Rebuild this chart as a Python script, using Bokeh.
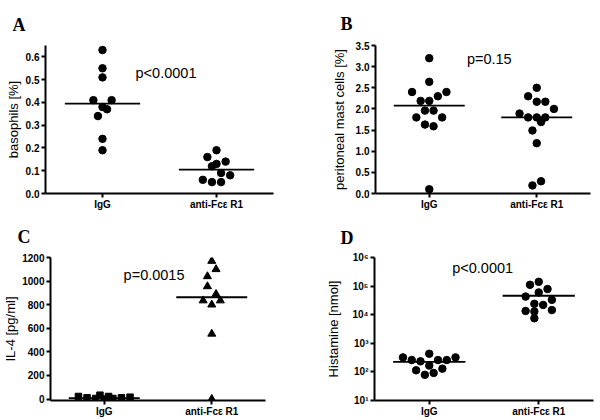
from bokeh.plotting import figure
from bokeh.layouts import column, row
from bokeh.models import FixedTicker, Range1d
from bokeh.core.properties import value
from bokeh.embed import file_html
from bokeh.resources import INLINE

SANS = "Liberation Sans"
SERIF = "Liberation Serif"

# ---------------- data ----------------
categories = ["IgG", "anti-Fcε R1"]
cat_pos = [1, 2]

# Panel A: basophils [%]
igg_A = [0.63, 0.55, 0.51, 0.41, 0.41, 0.38, 0.37, 0.34, 0.24, 0.19]
igg_A_jit = [0, 0, 0, -0.08, 0.08, 0, 0.04, -0.04, 0, 0]
anti_A = [0.19, 0.16, 0.14, 0.13, 0.12, 0.09, 0.08, 0.06, 0.05, 0.05]
anti_A_jit = [0, -0.08, 0.08, 0, -0.04, 0.04, 0.12, -0.12, -0.04, 0.04]
med_A = [0.395, 0.105]
yticks_A = [0.0, 0.1, 0.2, 0.3, 0.4, 0.5, 0.6]
ylabels_A = ["0.0", "0.1", "0.2", "0.3", "0.4", "0.5", "0.6"]

# Panel B: peritoneal mast cells [%]
igg_B = [3.2, 2.64, 2.4, 2.4, 2.3, 2.19, 2.19, 1.96, 1.96, 1.8, 1.8, 1.63, 1.59, 0.1]
igg_B_jit = [0, 0, -0.16, 0.16, 0.08, -0.08, 0, -0.04, 0.04, -0.12, 0.12, -0.04, 0.04, 0]
anti_B = [2.5, 2.3, 2.17, 2.17, 2.0, 1.89, 1.8, 1.8, 1.8, 1.69, 1.49, 1.19, 0.29, 0.19]
anti_B_jit = [0, -0.08, 0, 0.08, 0.16, -0.16, -0.08, 0, 0.08, 0.04, -0.04, 0, 0.04, -0.04]
med_B = [2.08, 1.80]
yticks_B = [0.0, 0.5, 1.0, 1.5, 2.0, 2.5, 3.0, 3.5]
ylabels_B = ["0.0", "0.5", "1.0", "1.5", "2.0", "2.5", "3.0", "3.5"]

# Panel C: IL-4 [pg/ml]
igg_C = [22, 11, 5, 33, 0, 22, 5, 11, 16]
igg_C_jit = [-0.24, -0.16, -0.08, -0.04, 0, 0.04, 0.08, 0.16, 0.24]
anti_C = [1170, 1100, 1040, 955, 890, 835, 835, 800, 553, 0]
anti_C_jit = [0, 0.04, -0.04, -0.04, 0.04, -0.08, 0.08, 0, 0, 0]
med_C = [8, 863]
yticks_C = [0, 200, 400, 600, 800, 1000, 1200]
ylabels_C = ["0", "200", "400", "600", "800", "1000", "1200"]

# Panel D: Histamine [nmol]
igg_D = [322, 322, 260, 260, 260, 234, 431, 166, 114, 130, 92, 79]
igg_D_jit = [-0.24, 0.24, -0.16, 0.08, 0.16, -0.08, 0, 0, -0.12, 0.12, 0.04, -0.04]
anti_D = [141000, 111000, 79000, 60000, 43000, 24000, 22000, 33000, 13500, 13000, 14500, 7500]
anti_D_jit = [0, -0.08, 0.08, 0, -0.12, -0.04, 0.04, 0.12, -0.12, -0.04, 0.12, -0.04]
med_D = [225, 46000]
yticks_D = [10, 100, 1000, 10000, 100000, 1000000]
ylabels_D = ["10¹", "10²", "10³", "10⁴", "10⁵", "10⁶"]

p_texts = ["p<0.0001", "p=0.15", "p=0.0015", "p<0.0001"]
letters = ["A", "B", "C", "D"]


def panel(letter, w, h, borders, yr, ylog, ylabel, yticks, ylabels,
          g1, j1, g2, j2, med, m1, m2, s1, s2, ptext, pxy, title_off, title_stand, ystand):
    bl, br, bt, bb = borders
    p = figure(width=w, height=h, x_range=Range1d(0.5, 2.5), y_range=Range1d(*yr),
               y_axis_type="log" if ylog else "linear",
               output_backend="svg", toolbar_location=None,
               min_border_left=bl, min_border_right=br,
               min_border_top=bt, min_border_bottom=bb)
    p.outline_line_color = None
    p.xgrid.visible = False
    p.ygrid.visible = False
    p.background_fill_color = "white"
    p.border_fill_color = "white"

    p.title.text = letter
    p.title.text_font = SERIF
    p.title.text_font_style = "bold"
    p.title.text_font_size = "18px"
    p.title.text_color = "black"
    p.title.align = "left"
    p.title.offset = title_off
    p.title.standoff = title_stand

    for ax in (p.xaxis[0], p.yaxis[0]):
        ax.axis_line_width = 2
        ax.axis_line_color = "black"
        ax.major_tick_line_width = 2
        ax.major_tick_line_color = "black"
        ax.major_tick_out = 4
        ax.major_tick_in = 0
        ax.minor_tick_out = 0
        ax.minor_tick_in = 0
        ax.major_label_text_font = SANS
        ax.major_label_text_font_style = "bold"
        ax.major_label_text_font_size = "10px"
        ax.major_label_text_color = "black"
        ax.major_label_standoff = 2

    p.xaxis.axis_label = None
    p.xaxis.major_label_standoff = 1
    p.xaxis.ticker = FixedTicker(ticks=cat_pos)
    p.xaxis.major_label_overrides = {c: t for c, t in zip(cat_pos, categories)}
    p.yaxis.ticker = FixedTicker(ticks=yticks)
    p.yaxis.major_label_overrides = {v: t for v, t in zip(yticks, ylabels)}
    p.yaxis.axis_label = ylabel
    p.yaxis.axis_label_text_font = SANS
    p.yaxis.axis_label_text_font_style = "normal"
    p.yaxis.axis_label_text_font_size = "13px"
    p.yaxis.axis_label_text_color = "black"
    p.yaxis.axis_label_standoff = ystand

    x1 = [cat_pos[0] + d for d in j1]
    x2 = [cat_pos[1] + d for d in j2]
    p.scatter(x1, g1, marker=m1, size=s1, color="black")
    p.scatter(x2, g2, marker=m2, size=s2, color="black")
    p.segment(x0=[c - 0.33 for c in cat_pos], x1=[c + 0.33 for c in cat_pos],
              y0=med, y1=med, line_color="black", line_width=1.8)
    p.text(x=[pxy[0]], y=[pxy[1]], text=[ptext], text_font=value(SANS),
           text_font_size="14.5px", text_align="left", text_baseline="middle",
           text_color="black")
    return p


pA = panel(letters[0], 300, 212, (45, 27, 43, 19), (0, 0.65), False, "basophils [%]",
           yticks_A, ylabels_A, igg_A, igg_A_jit, anti_A, anti_A_jit, med_A,
           "circle", "circle", 7.5, 7.5, p_texts[0], (1.29, 0.528), -33, 22, 2)
pB = panel(letters[1], 298, 212, (75, 8, 44, 19), (0, 3.5), False, "peritoneal mast cells [%]",
           yticks_B, ylabels_B, igg_B, igg_B_jit, anti_B, anti_B_jit, med_B,
           "circle", "circle", 7.5, 7.5, p_texts[1], (1.35, 3.18), -35, 23, 6)
pC = panel(letters[2], 300, 207, (45, 35, 45, 19), (-12, 1200), False, "IL-4 [pg/ml]",
           yticks_C, ylabels_C, igg_C, igg_C_jit, anti_C, anti_C_jit, med_C,
           "square", "triangle", 6.5, 8, p_texts[2], (1.18, 1052), -33, 22, 1)
pD = panel(letters[3], 298, 207, (74, 5, 41, 19), (10, 1000000), True, "Histamine [nmol]",
           yticks_D, ylabels_D, igg_D, igg_D_jit, anti_D, anti_D_jit, med_D,
           "circle", "circle", 7.5, 7.5, p_texts[3], (1.21, 430000), -34, 19, 8)

layout = column(row(pA, pB, spacing=0), row(pC, pD, spacing=0), spacing=0)
open("out.html", "w").write(file_html(layout, INLINE))
